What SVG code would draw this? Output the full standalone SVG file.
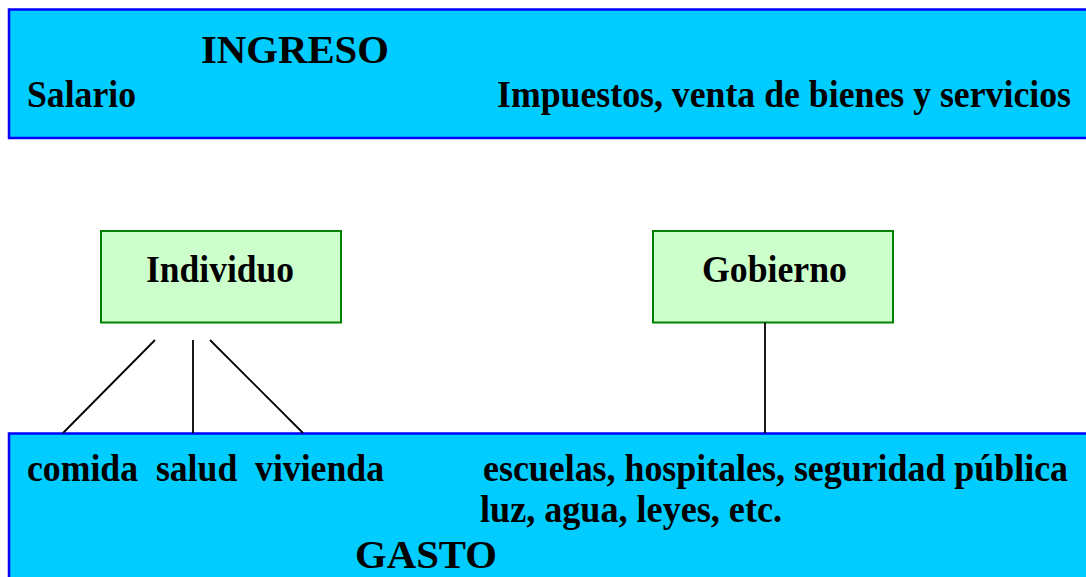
<svg xmlns="http://www.w3.org/2000/svg" width="1086" height="577" viewBox="0 0 1086 577">
<style>
.band{fill:#00CCFF;stroke:#0000FF;stroke-width:2.5}
.node{fill:#CCFFCC;stroke:#008000;stroke-width:2}
.t{font-family:"Liberation Serif","Times New Roman",serif;font-weight:bold;fill:#000;white-space:pre}
.s36{font-size:37px}
.s40{font-size:41px}
.conn{stroke:#000;stroke-width:1.8;fill:none}
</style>
<rect width="1086" height="577" fill="#FFFFFF"/>
<g id="ingreso">
<rect class="band" x="9" y="9.5" width="1090" height="128.5"/>
<text class="t s40" x="201" y="63" textLength="188" lengthAdjust="spacingAndGlyphs">INGRESO</text>
<text class="t s36" x="27" y="107" textLength="109" lengthAdjust="spacingAndGlyphs">Salario</text>
<text class="t s36" x="497" y="107" textLength="574" lengthAdjust="spacingAndGlyphs">Impuestos, venta de bienes y servicios</text>
</g>
<g id="gasto">
<rect class="band" x="9" y="433.5" width="1090" height="160"/>
<text class="t s36" x="27" y="481" textLength="357" lengthAdjust="spacingAndGlyphs">comida  salud  vivienda</text>
<text class="t s36" x="483" y="481" textLength="585" lengthAdjust="spacingAndGlyphs">escuelas, hospitales, seguridad pública</text>
<text class="t s36" x="480" y="522" textLength="302" lengthAdjust="spacingAndGlyphs">luz, agua, leyes, etc.</text>
<text class="t s40" x="355" y="568" textLength="142" lengthAdjust="spacingAndGlyphs">GASTO</text>
</g>
<g id="individuo">
<rect class="node" x="101" y="231" width="240" height="91.5"/>
<text class="t s36" x="146" y="282" textLength="148" lengthAdjust="spacingAndGlyphs">Individuo</text>
</g>
<g id="gobierno">
<rect class="node" x="653" y="231" width="240" height="91.5"/>
<text class="t s36" x="702" y="282" textLength="145" lengthAdjust="spacingAndGlyphs">Gobierno</text>
</g>
<g id="connectors">
<line class="conn" x1="155" y1="340" x2="63" y2="433"/>
<line class="conn" x1="193" y1="340" x2="193" y2="433"/>
<line class="conn" x1="210" y1="340" x2="303" y2="433"/>
<line class="conn" x1="765" y1="322.5" x2="765" y2="433"/>
</g>
</svg>
